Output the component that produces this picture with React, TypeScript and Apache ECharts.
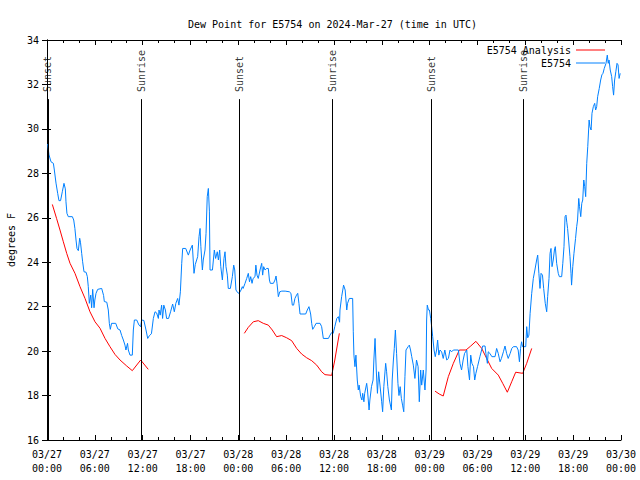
import React, { useEffect, useRef } from "react";
import * as echarts from "echarts";

// Observations (E5754): hours since 03/27 00:00 UTC and dew point (°F)
const obsHours = [
  0.08, 0.25, 0.5, 0.8, 0.92, 1.13, 1.34, 1.5, 1.7, 1.92, 2.13, 2.3, 2.38, 2.5, 2.67, 3.18, 3.35, 3.5, 3.64, 3.76,
  3.93, 4.1, 4.2, 4.35, 4.47, 4.64, 4.9, 5.06, 5.18, 5.31, 5.48, 5.6, 5.73, 5.9, 6.0, 6.15, 6.36, 6.86, 7.1, 7.19,
  7.5, 7.69, 7.82, 7.94, 8.1, 8.62, 8.88, 9.16, 9.37, 9.58, 9.78, 9.9, 10.1, 10.2, 10.41, 10.7, 10.83, 10.96, 11.25, 11.54,
  11.75, 11.87, 12.15, 12.42, 12.63, 12.85, 13.1, 13.34, 13.55, 13.75, 13.97, 14.05, 14.2, 14.38, 14.5, 14.65, 14.85, 15.0, 15.25, 15.5,
  15.76, 15.97, 16.16, 16.39, 16.55, 16.73, 16.9, 17.02, 17.4, 17.73, 17.95, 18.23, 18.44, 18.6, 18.9, 19.07, 19.2, 19.3, 19.49, 19.6,
  19.82, 19.95, 20.1, 20.24, 20.37, 20.45, 20.75, 20.99, 21.15, 21.36, 21.5, 21.66, 21.8, 22.0, 22.2, 22.33, 22.45, 22.62, 22.74, 23.0,
  23.25, 23.42, 23.55, 23.7, 23.92, 24.1, 24.34, 24.5, 24.6, 24.84, 25.05, 25.25, 25.4, 25.55, 25.72, 25.85, 26.09, 26.2, 26.34, 26.5,
  26.72, 26.93, 27.05, 27.18, 27.35, 27.55, 27.76, 27.9, 28.01, 28.4, 28.6, 28.73, 28.85, 29.02, 29.2, 29.45, 29.87, 30.4, 30.6, 30.77,
  30.93, 31.1, 31.3, 31.45, 31.6, 31.74, 32.45, 32.65, 32.86, 33.07, 33.2, 33.33, 33.54, 33.75, 34.25, 34.45, 34.66, 35.3, 35.5, 35.7,
  35.9, 36.1, 36.35, 36.55, 36.7, 36.75, 36.96, 37.1, 37.2, 37.4, 37.6, 37.7, 37.92, 38.34, 38.42, 38.5, 38.63, 38.75, 38.92, 39.05,
  39.15, 39.35, 39.5, 39.6, 39.75, 39.85, 40.1, 40.2, 40.4, 40.5, 40.7, 40.9, 41.0, 41.15, 41.3, 41.45, 41.6, 41.7, 41.98, 42.1,
  42.25, 42.48, 42.6, 42.75, 42.95, 43.2, 43.3, 43.45, 43.56, 43.7, 43.85, 44.02, 44.15, 44.3, 44.45, 44.6, 44.75, 44.9, 45.03, 45.3,
  45.45, 45.6, 45.75, 45.95, 46.15, 46.35, 46.55, 46.7, 46.87, 47.0, 47.2, 47.3, 47.41, 47.55, 47.62, 47.7, 47.85, 47.97, 48.13, 48.25,
  48.38, 48.55, 48.7, 48.87, 49.0, 49.15, 49.3, 49.5, 49.7, 49.9, 50.14, 50.35, 50.55, 50.76, 50.97, 51.6, 51.8, 52.0, 52.2, 52.38,
  52.65, 52.8, 53.0, 53.15, 53.3, 53.5, 53.65, 53.8, 54.0, 54.3, 54.65, 54.95, 55.05, 55.24, 55.35, 55.55, 55.8, 56.2, 56.4, 56.6,
  56.83, 57.0, 57.25, 57.45, 57.65, 57.85, 58.1, 58.3, 58.5, 58.9, 59.1, 59.26, 59.4, 59.53, 59.65, 59.8, 60.05, 60.17, 60.3, 60.45,
  60.6, 60.8, 61.0, 61.2, 61.42, 61.55, 61.7, 61.84, 61.97, 62.15, 62.3, 62.5, 62.68, 62.8, 62.97, 63.1, 63.22, 63.35, 63.5, 63.65,
  63.76, 63.93, 64.13, 64.27, 64.56, 64.7, 64.85, 64.98, 65.1, 65.2, 65.3, 65.43, 65.6, 65.73, 65.8, 65.95, 66.1, 66.3, 66.44, 66.55,
  66.7, 66.8, 66.95, 67.08, 67.2, 67.33, 67.45, 67.57, 67.7, 67.83, 68.0, 68.1, 68.25, 68.36, 68.53, 68.7, 68.82, 68.95, 69.07, 69.27,
  69.45, 69.6, 69.74, 69.9, 70.12, 70.28, 70.4, 70.5, 70.65, 70.83, 70.95, 71.07, 71.2, 71.35, 71.5, 71.63, 71.76, 71.9,
];
const obsDew = [
  29.32, 28.83, 28.52, 28.45, 28.15, 27.56, 27.1, 26.77, 26.77, 27.17, 27.55, 27.3, 26.72, 26.2, 26.05, 26.05, 25.9, 25.52, 25.0, 24.62,
  24.52, 25.08, 24.9, 24.4, 24.02, 23.57, 23.55, 23.35, 22.9, 22.15, 22.52, 21.95, 22.78, 21.95, 22.3, 22.6, 22.78, 22.82, 22.5, 22.23,
  22.2, 21.85, 21.25, 20.98, 21.25, 21.25, 21.0, 20.95, 20.7, 20.5, 20.27, 20.05, 20.35, 20.05, 19.82, 19.82, 20.95, 21.4, 21.4, 21.17,
  21.1, 21.4, 21.38, 20.95, 20.57, 20.7, 20.78, 21.47, 21.77, 21.72, 21.47, 21.85, 21.62, 22.07, 21.47, 22.07, 21.85, 21.47, 21.47, 21.77,
  22.12, 21.77, 22.15, 22.37, 22.07, 22.67, 23.95, 24.62, 24.62, 24.32, 24.55, 24.77, 23.5, 23.9, 24.25, 25.15, 25.52, 24.7, 23.65, 24.1,
  24.55, 25.3, 26.95, 27.32, 26.3, 23.65, 23.65, 24.55, 24.17, 24.47, 24.1, 24.55, 23.8, 23.2, 24.17, 24.47, 23.8, 23.42, 22.82, 22.82,
  23.35, 23.87, 23.65, 22.75, 22.63, 22.6, 22.75, 22.9, 22.82, 23.05, 23.27, 23.5, 23.12, 23.35, 23.05, 23.27, 23.35, 23.87, 23.42, 23.27,
  23.65, 23.95, 23.42, 23.8, 23.65, 23.72, 23.72, 23.2, 23.05, 23.05, 23.2, 23.38, 23.05, 22.45, 22.67, 22.7, 22.7, 22.67, 22.6, 22.07,
  22.07, 22.37, 22.52, 22.6, 22.15, 21.67, 21.67, 21.85, 22.0, 21.67, 21.25, 20.98, 21.1, 21.25, 21.25, 21.1, 20.57, 20.57, 20.72, 20.83,
  20.8, 21.1, 21.47, 21.55, 21.3, 21.85, 22.45, 22.75, 22.97, 22.75, 21.85, 22.15, 22.37, 22.37, 20.87, 19.82, 19.3, 19.82, 18.7, 18.25,
  18.47, 17.95, 17.8, 18.1, 17.72, 18.1, 18.55, 18.25, 17.35, 17.8, 18.4, 18.7, 19.6, 20.57, 19.15, 18.1, 19.07, 18.7, 17.72, 17.27,
  18.4, 19.45, 19.07, 18.4, 17.8, 17.35, 18.7, 19.6, 20.12, 20.95, 19.9, 18.55, 18.0, 18.4, 17.87, 17.57, 17.27, 18.85, 20.05, 20.2,
  20.27, 20.05, 19.75, 19.37, 18.77, 19.6, 19.3, 17.72, 19.15, 18.47, 19.15, 18.7, 18.25, 19.15, 21.4, 22.07, 21.85, 21.85, 21.47, 21.1,
  20.65, 20.05, 19.75, 20.05, 20.5, 19.82, 20.05, 19.97, 19.67, 20.05, 19.6, 19.67, 20.05, 19.97, 20.05, 20.05, 19.45, 19.15, 19.6, 19.9,
  20.05, 19.3, 18.7, 19.82, 19.45, 19.3, 18.7, 19.0, 19.3, 19.75, 20.23, 20.23, 19.9, 19.45, 19.97, 19.9, 19.75, 19.75, 20.12, 19.9,
  19.52, 19.67, 19.97, 20.23, 19.9, 19.67, 19.9, 20.12, 20.2, 20.2, 20.05, 19.52, 20.12, 20.42, 20.2, 20.2, 20.2, 21.1, 20.6, 20.72,
  21.7, 22.6, 23.27, 23.65, 24.1, 24.32, 23.5, 22.82, 23.5, 23.42, 22.82, 22.15, 21.77, 22.45, 23.27, 24.4, 24.62, 23.8, 24.1, 24.55,
  24.7, 23.95, 23.5, 23.35, 23.35, 23.95, 24.7, 26.05, 26.12, 25.8, 25.52, 25.0, 24.25, 23.5, 22.97, 23.8, 24.4, 25.07, 25.6, 25.9,
  26.87, 26.5, 26.05, 26.65, 26.8, 27.7, 27.4, 26.95, 28.45, 29.2, 30.4, 30.1, 29.95, 30.7, 31.0, 31.15, 30.85, 31.0, 31.45, 31.82,
  32.2, 32.43, 32.5, 32.72, 32.95, 33.32, 32.95, 33.1, 32.65, 32.35, 31.9, 31.52, 32.2, 32.57, 32.95, 32.88, 32.27, 32.5,
];

// Analysis (E5754 Analysis): three segments, null marks the gaps
const anaHours = [
  0.67, 1.2, 1.63, 2.05, 2.47, 2.89, 3.51, 4.14, 4.77, 5.39, 6.02, 6.65, 7.28, 7.9, 8.53, 9.16, 10.0, 10.7, 11.75, 12.7,
  18.0,
  24.75, 25.25, 25.88, 26.5, 27.13, 27.76, 28.26, 28.8, 29.44, 30.06, 30.69, 31.32, 31.94, 32.57, 33.2, 33.83, 34.45, 34.87, 35.71, 36.1, 36.67,
  42.0,
  48.67, 49.2, 49.7, 50.34, 50.97, 51.72, 52.56, 53.15, 53.8, 54.53, 55.15, 55.78, 56.61, 57.16, 57.74, 58.29, 58.79, 59.67, 60.17, 60.8,
];
const anaDew = [
  26.6, 25.97, 25.45, 24.92, 24.4, 23.95, 23.5, 22.9, 22.37, 21.77, 21.32, 21.03, 20.57, 20.2, 19.85, 19.6, 19.33, 19.12, 19.6, 19.18,
  null,
  20.8, 21.07, 21.32, 21.37, 21.25, 21.17, 20.95, 20.65, 20.7, 20.6, 20.47, 20.12, 19.87, 19.7, 19.57, 19.37, 19.07, 18.94, 18.91, 19.6, 20.8,
  null,
  18.2, 18.07, 17.98, 18.85, 19.45, 20.05, 20.05, 20.23, 20.44, 20.12, 19.67, 19.22, 18.92, 18.55, 18.15, 18.62, 19.05, 19.0, 19.45, 20.12,
];

// Sunset / sunrise events (hours since 03/27 00:00 UTC)
const sunNames = ["Sunset", "Sunrise", "Sunset", "Sunrise", "Sunset", "Sunrise"];
const sunHours = [0.1, 11.85, 24.12, 35.8, 48.2, 59.75];
const sunLineTop = 31.34;
const sunLabelBase = 31.66;

const yMin = 16;
const yMax = 34;
const xMin = 0;
const xMax = 72;

const FONT = "DejaVu Sans Mono";

export default function App() {
  const ref = useRef<HTMLDivElement>(null);

  useEffect(() => {
    if (!ref.current) return;
    const chart = echarts.init(ref.current, undefined, { renderer: "svg" });

    const fmtX = (v: number) => {
      const d = 27 + Math.floor(v / 24);
      const hh = v % 24;
      return `03/${d}\n${String(hh).padStart(2, "0")}:00`;
    };

    const axisLine = { show: true, lineStyle: { color: "#000", width: 1 } };

    const option: any = {
      animation: false,
      backgroundColor: "#fff",
      title: {
        text: "Dew Point for E5754 on 2024-Mar-27 (time in UTC)",
        left: 183,
        top: 14,
        textStyle: { fontFamily: FONT, fontSize: 10, fontWeight: "normal", color: "#000" },
      },
      legend: {
        data: ["E5754 Analysis", "E5754"],
        orient: "vertical",
        align: "right",
        right: 30,
        top: 39,
        icon: "rect",
        itemWidth: 29,
        itemHeight: 1,
        itemGap: 1,
        textStyle: { fontFamily: FONT, fontSize: 10, color: "#000", lineHeight: 12 },
      },
      grid: { left: 47, right: 19, top: 40, bottom: 40, outerBoundsMode: "none", containLabel: false },
      xAxis: [
        {
          type: "value",
          min: xMin,
          max: xMax,
          interval: 6,
          position: "bottom",
          axisLine,
          axisTick: { show: true, inside: true, length: 5, lineStyle: { color: "#000" } },
          minorTick: { show: true, splitNumber: 3, length: 3, lineStyle: { color: "#000" } },
          splitLine: { show: false },
          axisLabel: {
            formatter: fmtX,
            fontFamily: FONT,
            fontSize: 10,
            color: "#000",
            lineHeight: 14,
            margin: 7,
          },
        },
        {
          type: "value",
          min: xMin,
          max: xMax,
          interval: 6,
          position: "top",
          axisLine,
          axisTick: { show: true, inside: true, length: 5, lineStyle: { color: "#000" } },
          minorTick: { show: true, splitNumber: 3, length: 3, lineStyle: { color: "#000" } },
          splitLine: { show: false },
          axisLabel: { show: false },
        },
      ],
      yAxis: [
        {
          type: "value",
          min: yMin,
          max: yMax,
          interval: 2,
          position: "left",
          name: "degrees F",
          nameLocation: "middle",
          nameGap: 31,
          nameTextStyle: { fontFamily: FONT, fontSize: 10, color: "#000" },
          axisLine,
          axisTick: { show: true, inside: true, length: 4, lineStyle: { color: "#000" } },
          splitLine: { show: false },
          axisLabel: { fontFamily: FONT, fontSize: 10, color: "#000", margin: 8 },
        },
        {
          type: "value",
          min: yMin,
          max: yMax,
          interval: 2,
          position: "right",
          axisLine,
          axisTick: { show: true, inside: true, length: 5, lineStyle: { color: "#000" } },
          splitLine: { show: false },
          axisLabel: { show: false },
        },
      ],
      series: [
        {
          name: "E5754 Analysis",
          type: "line",
          xAxisIndex: 0,
          yAxisIndex: 0,
          data: anaHours.map((h, i) => [h, anaDew[i]]),
          connectNulls: false,
          symbol: "none",
          showSymbol: false,
          lineStyle: { color: "#ff0000", width: 1 },
          itemStyle: { color: "#ff0000" },
          silent: true,
        },
        {
          name: "E5754",
          type: "line",
          xAxisIndex: 0,
          yAxisIndex: 0,
          data: obsHours.map((h, i) => [h, obsDew[i]]),
          symbol: "none",
          showSymbol: false,
          lineStyle: { color: "#0080ff", width: 1 },
          itemStyle: { color: "#0080ff" },
          silent: true,
          markLine: {
            silent: true,
            symbol: ["none", "none"],
            label: { show: false },
            lineStyle: { color: "#000", width: 1, type: "solid" },
            data: sunHours.map((h) => [{ coord: [h, sunLineTop] }, { coord: [h, yMin] }]),
          },
        },
        {
          name: "sun",
          type: "scatter",
          xAxisIndex: 0,
          yAxisIndex: 0,
          symbolSize: 0,
          silent: true,
          data: sunHours.map((h, i) => ({ value: [h, sunLabelBase], name: sunNames[i] })),
          label: {
            show: true,
            formatter: "{b}",
            position: [0, 0],
            rotate: 90,
            align: "left",
            verticalAlign: "middle",
            fontFamily: FONT,
            fontSize: 10,
            color: "#000",
          },
        },
      ],
    };

    chart.setOption(option);
    return () => chart.dispose();
  }, []);

  return (
    <div
      ref={ref}
      style={{ position: "fixed", left: 0, top: 0, width: 640, height: 480 }}
    />
  );
}
